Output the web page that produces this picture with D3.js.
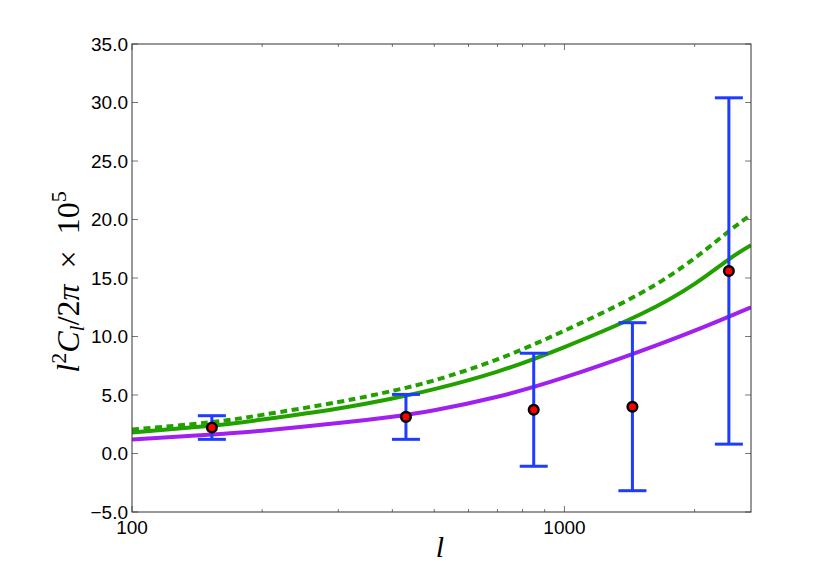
<!DOCTYPE html>
<html>
  <head>
    <meta charset="UTF-8">
    <style>
      html, body { margin: 0; padding: 0; background: #fff; }
      #viz { width: 830px; height: 576px; }
    </style>
    <script src="https://d3js.org/d3.v7.min.js"></script>
  </head>
  <body>
    <div id="viz"></div>
    <script>
      // curve samples (multipole l)
      const lSamples = [100, 150, 200, 300, 400, 500, 700, 1000, 1500, 2000, 2400, 2700];
      const greenSolid = [1.8, 2.35, 2.9, 3.85, 4.7, 5.5, 7.0, 9.1, 11.9, 14.5, 16.6, 17.8];
      const greenDashed = [2.05, 2.65, 3.3, 4.4, 5.35, 6.25, 8.05, 10.5, 13.7, 16.7, 19.0, 20.4];
      const purpleCurve = [1.2, 1.6, 1.95, 2.6, 3.15, 3.7, 4.85, 6.5, 8.75, 10.5, 11.7, 12.5];

      // binned measurements with symmetric errors
      const binL = [153, 430, 849, 1436, 2400];
      const binValue = [2.22, 3.13, 3.74, 4.0, 15.6];
      const binError = [1.01, 1.92, 4.83, 7.18, 14.8];

      const yTicks = [-5, 0, 5, 10, 15, 20, 25, 30, 35];
      const xMajorTicks = [100, 1000];
      const xMinorTicks = [200, 300, 400, 500, 600, 700, 800, 900, 2000];

      let margin = {top: 44, right: 79, bottom: 64, left: 132},
          width = 830 - margin.left - margin.right,
          height = 576 - margin.top - margin.bottom;

      const x = d3.scaleLog().domain([100, 2700]).range([0, width]);
      const y = d3.scaleLinear().domain([-5, 35]).range([height, 0]);

      const svg = d3.select('#viz')
        .append('svg')
        .attr('width', 830)
        .attr('height', 576)
        .append('g')
        .attr('transform', `translate(${margin.left}, ${margin.top})`);

      svg.append('clipPath').attr('id', 'plotclip')
        .append('rect').attr('width', width).attr('height', height);

      const plot = svg.append('g').attr('clip-path', 'url(#plotclip)');

      const line = d3.line()
        .x(d => x(d[0]))
        .y(d => y(d[1]))
        .curve(d3.curveNatural);

      const curves = [
        {vals: greenDashed, color: '#22a000', dash: '7,4.5'},
        {vals: greenSolid, color: '#22a000', dash: null},
        {vals: purpleCurve, color: '#a020f0', dash: null}
      ];

      curves.forEach(c => {
        plot.append('path')
          .datum(lSamples.map((l, i) => [l, c.vals[i]]))
          .attr('fill', 'none')
          .attr('stroke', c.color)
          .attr('stroke-width', 4)
          .attr('stroke-dasharray', c.dash)
          .attr('d', line);
      });

      // error bars
      const bins = binL.map((l, i) => ({l: l, v: binValue[i], e: binError[i]}));
      const capHalf = 14;
      const eb = plot.selectAll('g.err').data(bins).join('g').attr('class', 'err')
        .attr('stroke', '#1e3cff').attr('stroke-width', 3);
      eb.append('line')
        .attr('x1', d => x(d.l)).attr('x2', d => x(d.l))
        .attr('y1', d => y(d.v - d.e)).attr('y2', d => y(d.v + d.e));
      eb.append('line')
        .attr('x1', d => x(d.l) - capHalf).attr('x2', d => x(d.l) + capHalf)
        .attr('y1', d => y(d.v + d.e)).attr('y2', d => y(d.v + d.e));
      eb.append('line')
        .attr('x1', d => x(d.l) - capHalf).attr('x2', d => x(d.l) + capHalf)
        .attr('y1', d => y(d.v - d.e)).attr('y2', d => y(d.v - d.e));

      plot.selectAll('circle.pt').data(bins).join('circle')
        .attr('class', 'pt')
        .attr('cx', d => x(d.l)).attr('cy', d => y(d.v))
        .attr('r', 4.8)
        .attr('fill', '#ff0000')
        .attr('stroke', '#000')
        .attr('stroke-width', 2.5);

      // ticks, pointing inward on all four sides
      const tickColor = '#777';
      const ticks = svg.append('g').attr('stroke', tickColor).attr('stroke-width', 1);
      yTicks.forEach(t => {
        ticks.append('line').attr('x1', 0).attr('x2', 6).attr('y1', y(t)).attr('y2', y(t));
        ticks.append('line').attr('x1', width - 6).attr('x2', width).attr('y1', y(t)).attr('y2', y(t));
      });
      xMajorTicks.forEach(t => {
        ticks.append('line').attr('x1', x(t)).attr('x2', x(t)).attr('y1', height).attr('y2', height - 6);
        ticks.append('line').attr('x1', x(t)).attr('x2', x(t)).attr('y1', 0).attr('y2', 6);
      });
      xMinorTicks.forEach(t => {
        ticks.append('line').attr('x1', x(t)).attr('x2', x(t)).attr('y1', height).attr('y2', height - 3);
        ticks.append('line').attr('x1', x(t)).attr('x2', x(t)).attr('y1', 0).attr('y2', 3);
      });

      // frame
      svg.append('rect')
        .attr('width', width).attr('height', height)
        .attr('fill', 'none').attr('stroke', '#333').attr('stroke-width', 1);

      const labelFont = '"Liberation Sans", Arial, sans-serif';
      svg.append('g').selectAll('text').data(yTicks).join('text')
        .attr('x', -4)
        .attr('y', d => y(d) + 6.7)
        .attr('text-anchor', 'end')
        .attr('font-family', labelFont)
        .attr('font-size', 19)
        .attr('fill', '#000')
        .text(d3.format('.1f'));

      svg.append('g').selectAll('text').data(xMajorTicks).join('text')
        .attr('x', d => x(d))
        .attr('y', height + 22)
        .attr('text-anchor', 'middle')
        .attr('font-family', labelFont)
        .attr('font-size', 19)
        .attr('fill', '#000')
        .text(d => d);

      // axis titles
      const mathFont = '"Liberation Serif", "DejaVu Serif", serif';
      svg.append('text')
        .attr('x', 440 - margin.left)
        .attr('y', height + 45)
        .attr('text-anchor', 'middle')
        .attr('font-family', mathFont)
        .attr('font-style', 'italic')
        .attr('font-size', 30)
        .text('l');

      const ylab = svg.append('text')
        .attr('transform', `translate(${79 - margin.left}, ${282 - margin.top}) rotate(-90)`)
        .attr('text-anchor', 'middle')
        .attr('font-family', mathFont)
        .attr('font-size', 32);
      ylab.append('tspan').attr('font-style', 'italic').text('l');
      ylab.append('tspan').attr('font-size', 22).attr('dy', -13).text('2');
      ylab.append('tspan').attr('font-style', 'italic').attr('dy', 13).text('C');
      ylab.append('tspan').attr('font-style', 'italic').attr('font-size', 22).attr('dy', 5).text('l');
      ylab.append('tspan').attr('dy', -5).text('/2');
      ylab.append('tspan').attr('font-style', 'italic').text('π');
      ylab.append('tspan').text('\u2002×\u200210');
      ylab.append('tspan').attr('font-size', 22).attr('dy', -13).text('5');
    </script>
  </body>
</html>
